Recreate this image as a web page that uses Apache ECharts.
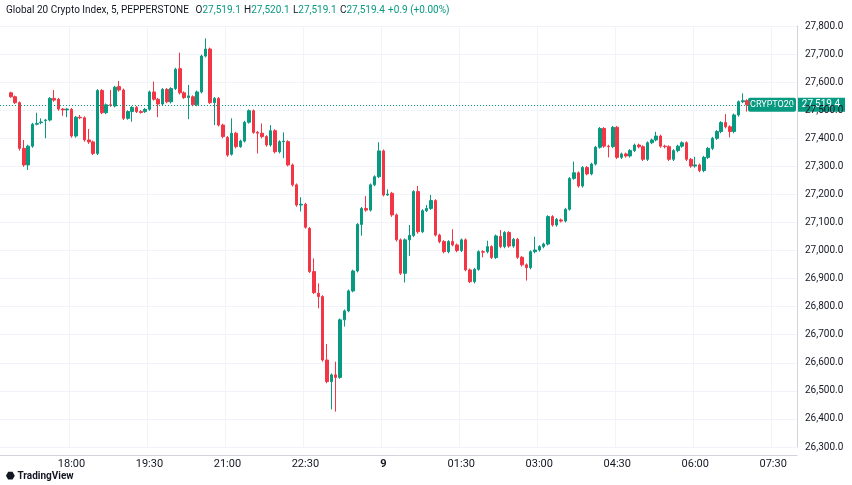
<!DOCTYPE html>
<html><head><meta charset="utf-8">
<script src="https://cdn.jsdelivr.net/npm/echarts@6/dist/echarts.min.js"></script>
<style>html,body{margin:0;padding:0;background:#fff}#c{width:852px;height:485px}</style>
</head><body><div id="c"></div>
<script>
const startTime = "16:40";
const leadEmpty = 2, trailEmpty = 11;
const opens = [27562,27548,27527,27364,27305,27372,27450,27456,27463,27465,27542,27539,27504,27501,27503,27408,27475,27473,27394,27387,
27346,27570,27491,27519,27515,27584,27572,27471,27495,27510,27495,27495,27503,27565,27539,27522,27574,27530,27577,27648,
27562,27545,27548,27519,27565,27693,27718,27527,27542,27447,27403,27343,27418,27370,27390,27457,27498,27421,27418,27406,
27376,27427,27352,27388,27388,27305,27234,27162,27165,27079,26925,26848,26836,26610,26533,26557,26548,26753,26785,26856,
26927,27093,27150,27144,27234,27263,27355,27198,27204,27127,27038,26919,27038,27054,27210,27067,27142,27150,27178,27055,
27032,26996,27032,27020,27000,27038,26931,26889,26933,26996,26996,27014,26975,27050,27014,27064,27016,27040,26976,26949,
26939,26996,27002,27014,27023,27121,27091,27109,27105,27147,27257,27277,27230,27296,27273,27308,27368,27435,27372,27370,
27439,27332,27344,27337,27356,27376,27370,27325,27384,27394,27408,27372,27370,27325,27356,27372,27384,27325,27301,27305,
27285,27332,27364,27400,27424,27456,27441,27424,27483,27530,27534];
const closes = [27548,27527,27364,27305,27372,27450,27453,27458,27465,27542,27536,27504,27501,27504,27408,27475,27473,27394,27387,27346,
27570,27491,27519,27518,27582,27572,27471,27495,27510,27495,27492,27503,27565,27539,27522,27574,27530,27577,27646,27562,
27545,27551,27519,27565,27693,27718,27527,27542,27447,27406,27340,27418,27370,27390,27457,27498,27421,27418,27406,27376,
27427,27352,27388,27390,27305,27234,27162,27165,27083,26925,26850,26836,26610,26533,26557,26548,26753,26785,26856,26927,
27093,27150,27144,27234,27263,27355,27198,27201,27127,27038,26919,27038,27054,27210,27067,27142,27150,27178,27055,27032,
26996,27032,27020,27000,27038,26931,26889,26933,26996,26994,27014,26975,27052,27014,27064,27016,27040,26976,26949,26939,
26996,27002,27014,27023,27121,27091,27111,27105,27147,27257,27277,27230,27296,27273,27308,27368,27435,27372,27370,27439,
27332,27344,27337,27356,27376,27370,27325,27384,27394,27408,27372,27370,27325,27356,27372,27384,27325,27301,27305,27285,
27332,27364,27400,27424,27456,27441,27424,27483,27530,27534,27519.4];
const lows = [27544,27522,27356,27298,27287,27366,27446,27450,27400,27460,27530,27498,27480,27475,27402,27402,27468,27388,27380,27340,
27340,27486,27486,27512,27510,27566,27465,27466,27459,27490,27488,27490,27498,27534,27475,27516,27525,27524,27572,27556,
27540,27468,27514,27514,27560,27688,27522,27447,27442,27400,27334,27338,27364,27366,27385,27452,27416,27346,27400,27370,
27370,27346,27346,27329,27300,27228,27156,27139,27078,26920,26845,26794,26604,26527,26434,26426,26543,26729,26780,26851,
26922,27053,27138,27139,27229,27258,27193,27195,27120,27032,26913,26886,26981,27048,27060,27062,27137,27145,27050,27026,
26990,26990,27015,26994,26995,26926,26884,26883,26928,26976,26990,26970,26970,27008,27008,27010,27010,26970,26943,26893,
26933,26990,26996,27008,27018,27085,27085,27100,27100,27142,27252,27224,27224,27268,27268,27303,27363,27366,27332,27365,
27326,27326,27331,27331,27351,27364,27319,27319,27379,27389,27366,27364,27319,27319,27350,27366,27319,27295,27295,27279,
27279,27326,27358,27394,27418,27435,27403,27418,27477,27525,27495];
const highs = [27566,27552,27531,27394,27377,27455,27491,27471,27469,27547,27572,27544,27508,27508,27508,27480,27483,27478,27433,27392,
27575,27575,27524,27572,27587,27604,27577,27500,27515,27515,27500,27508,27570,27602,27544,27579,27579,27582,27651,27705,
27567,27590,27553,27570,27698,27756,27723,27547,27547,27452,27408,27471,27423,27395,27462,27503,27503,27426,27453,27411,
27447,27432,27393,27421,27393,27310,27239,27190,27170,27084,26972,26883,26841,26667,26562,26604,26758,26790,26861,26932,
27098,27155,27194,27239,27268,27386,27360,27218,27209,27132,27043,27043,27091,27215,27230,27147,27162,27198,27183,27060,
27037,27037,27076,27025,27043,27043,26936,26938,27001,27001,27035,27019,27057,27073,27069,27069,27045,27045,26981,26954,
27001,27049,27019,27028,27126,27126,27116,27114,27152,27262,27317,27282,27301,27301,27313,27373,27440,27440,27377,27444,
27444,27349,27349,27361,27381,27381,27375,27389,27399,27423,27413,27377,27375,27361,27377,27389,27389,27330,27334,27310,
27337,27369,27405,27429,27461,27486,27446,27488,27535,27560,27539];
const yTickStep = 100;

const total = leadEmpty + opens.length + trailEmpty;
function buildTimes(){const [h,m]=startTime.split(':').map(Number);const t=h*60+m;const out=[];for(let i=0;i<total;i++){const v=(t+i*5)%1440;out.push(String(Math.floor(v/60)).padStart(2,'0')+':'+String(v%60).padStart(2,'0'));}return out;}
const times = buildTimes();
const candleData = [];
for(let i=0;i<leadEmpty;i++) candleData.push('-');
opens.forEach((o,i)=>candleData.push([o,closes[i],lows[i],highs[i]]));
for(let i=0;i<trailEmpty;i++) candleData.push('-');
const showTick = i => times[i].endsWith(':00')||times[i].endsWith(':30') ? ((parseInt(times[i])*60+parseInt(times[i].slice(3)))%90===0) : false;
const green='#089981', red='#F23645';
const chart = echarts.init(document.getElementById('c'));
const fmt = v => v.toLocaleString('en-US',{minimumFractionDigits:1,maximumFractionDigits:1});
const last = closes[closes.length-1];
chart.setOption({
  animation:false,
  grid:{left:0,right:55,top:26,bottom:38},
  xAxis:{type:'category',data:times,boundaryGap:true,
    axisLine:{show:true,lineStyle:{color:'#d1d4dc'}},axisTick:{show:false},offset:8,
    axisLabel:{color:'#131722',fontSize:11,fontFamily:'Roboto',margin:4,interval:showTick,
      formatter:v=> v==='00:00' ? '{b|9}' : v, rich:{b:{fontWeight:'bold',fontSize:11,color:'#131722'}}},
    splitLine:{show:true,interval:showTick,lineStyle:{color:'#f0f3fa'}}},
  yAxis:{type:'value',position:'right',min:26300,max:27800,interval:yTickStep,
    axisLine:{show:true,lineStyle:{color:'#d1d4dc'}},axisTick:{show:false},
    axisLabel:{color:'#131722',fontSize:10,fontFamily:'Roboto',margin:8,formatter:v=>v.toLocaleString('en-US')+'.0'},
    splitLine:{lineStyle:{color:'#f0f3fa'}}},
  series:[{type:'candlestick',barWidth:3,data:candleData,
    itemStyle:{color:green,color0:red,borderColor:green,borderColor0:red,borderWidth:1},
    markLine:{symbol:'none',silent:true,data:[{yAxis:last}],
      lineStyle:{color:green,type:[1,2],width:1},label:{show:false}}}]
});
const p = chart.convertToPixel({gridIndex:0},[0,last]);
chart.setOption({graphic:[
  {type:'text',left:6,top:4,style:{text:'{n|Global 20 Crypto Index, 5, PEPPERSTONE}  {k|O}{v|27,519.1} {k|H}{v|27,520.1} {k|L}{v|27,519.1} {k|C}{v|27,519.4} {v|+0.9 (+0.00%)}',
    rich:{n:{fill:'#131722',fontSize:10,fontFamily:'Roboto'},k:{fill:'#131722',fontSize:10,fontFamily:'Roboto'},v:{fill:green,fontSize:10,fontFamily:'Roboto'}}}},
  {type:'rect',shape:{x:748,y:p[1]-7,width:48,height:14,r:2},style:{fill:green}},
  {type:'text',x:772,y:p[1],style:{text:'CRYPTO20',fill:'#fff',fontSize:9,fontFamily:'Roboto',align:'center',verticalAlign:'middle'}},
  {type:'rect',shape:{x:797,y:p[1]-7,width:48,height:14},style:{fill:green}},
  {type:'text',x:821,y:p[1],style:{text:fmt(last),fill:'#fff',fontSize:10,fontFamily:'Roboto',align:'center',verticalAlign:'middle'}},
  {type:'text',left:6,top:471,style:{text:'\u2B23 TradingView',fill:'#131722',fontSize:10,fontWeight:'bold',fontFamily:'Roboto'}}
]});
</script></body></html>
